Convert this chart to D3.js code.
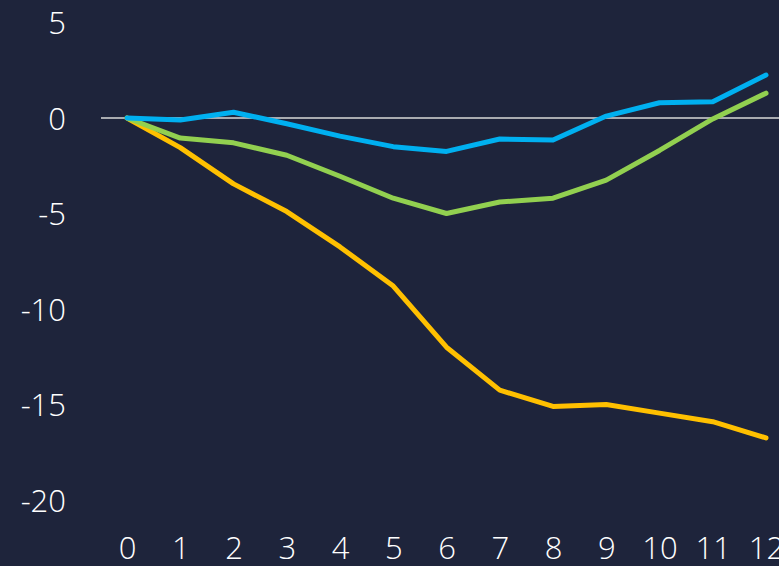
<!DOCTYPE html>
<html>
<head>
<meta charset="utf-8">
<script src="https://cdn.jsdelivr.net/npm/d3@7"></script>
<style>
  html, body { margin: 0; padding: 0; background: #1e243b; }
  svg { display: block; }
  .tick text { font-family: "Open Sans", sans-serif; font-weight: 300; fill: #ffffff; }
</style>
</head>
<body>
<div id="chart"></div>
<script>
// Data
var periods = [0, 1, 2, 3, 4, 5, 6, 7, 8, 9, 10, 11, 12];
var blue   = [0, -0.1, 0.3, -0.3, -0.95, -1.5, -1.75, -1.1, -1.15, 0.1, 0.8, 0.85, 2.25];
var green  = [0, -1.05, -1.3, -1.95, -3.05, -4.2, -5.0, -4.4, -4.2, -3.25, -1.7, -0.05, 1.3];
var yellow = [0, -1.55, -3.45, -4.9, -6.75, -8.8, -12.0, -14.25, -15.1, -15.0, -15.45, -15.9, -16.75];
var y_ticks = [5, 0, -5, -10, -15, -20];

var chart_width  = 779;
var chart_height = 566;

var svg = d3.select('#chart')
    .append('svg')
    .attr('width', chart_width)
    .attr('height', chart_height);

svg.append('rect')
    .attr('width', chart_width)
    .attr('height', chart_height)
    .attr('fill', '#1e243b');

// scales
var x = d3.scaleLinear().domain([0, 12]).range([127, 766]);
var y = d3.scaleLinear().domain([-20, 5]).range([500, 22.5]);

// plain hyphen for negatives, like the original
var fmt = function(d){ return String(d); };

// y axis labels
var yAxis = svg.append('g')
    .attr('transform', 'translate(66,0)')
    .call(d3.axisLeft(y).tickValues(y_ticks).tickSize(0).tickPadding(0).tickFormat(fmt));
yAxis.select('.domain').remove();
yAxis.selectAll('text').attr('font-size', 31).attr('dy', '0.36em');

// x axis labels
var xAxis = svg.append('g')
    .attr('transform', 'translate(0,559)')
    .call(d3.axisBottom(x).tickValues(periods).tickSize(0).tickPadding(0).tickFormat(fmt));
xAxis.select('.domain').remove();
xAxis.selectAll('text').attr('font-size', 31).attr('y', 0).attr('dy', 0);

// zero line
svg.append('line')
    .attr('x1', 101)
    .attr('x2', chart_width)
    .attr('y1', y(0))
    .attr('y2', y(0))
    .attr('stroke', '#d9d9d9')
    .attr('stroke-width', 1.5);

// lines
var line = d3.line()
    .x(function(d, i){ return x(periods[i]); })
    .y(function(d){ return y(d); });

var series = [
    { values: yellow, color: '#ffc000' },
    { values: green,  color: '#92d050' },
    { values: blue,   color: '#00b0f0' }
];

svg.selectAll('path.series')
    .data(series)
    .enter()
    .append('path')
    .attr('class', 'series')
    .attr('fill', 'none')
    .attr('stroke', function(d){ return d.color; })
    .attr('stroke-width', 5)
    .attr('stroke-linecap', 'round')
    .attr('stroke-linejoin', 'round')
    .attr('d', function(d){ return line(d.values); });
</script>
</body>
</html>
